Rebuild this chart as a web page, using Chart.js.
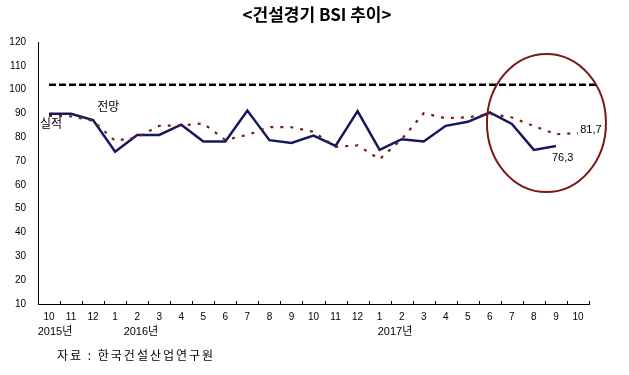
<!DOCTYPE html>
<html><head><meta charset="utf-8">
<script src="https://cdn.jsdelivr.net/npm/chart.js@4/dist/chart.umd.min.js"></script>
<style>html,body{margin:0;padding:0;background:#fff;}canvas{display:block;}</style>
</head><body>
<canvas id="c" width="629" height="375"></canvas>
<script>
// ---- data ----
const months = ['10','11','12','1','2','3','4','5','6','7','8','9','10','11','12','1','2','3','4','5','6','7','8','9','10'];
const actual = [89.9,89.9,87.2,73.9,81.0,81.0,85.3,78.2,78.2,91.2,78.8,77.6,80.7,76.4,91.0,74.7,79.2,78.2,84.8,86.5,90.4,85.6,74.7,76.3,null];
const forecast = [89.0,88.8,86.9,78.5,80.0,84.8,85.0,85.8,78.9,81.0,84.3,84.2,82.3,76.0,76.6,70.8,79.2,90.1,88.0,88.4,89.8,88.3,84.7,81.3,81.7];
const refLevel = 102;
const yearLabels = [['2015년',0.27],['2016년',4.17],['2017년',15.7]];
const noteLabels = [['전망',2.19,92.9],['실적',-0.41,86.0],['76,3',22.82,71.3],['81,7',24.1,83.1]];
const titleText = '<건설경기 BSI 추이>';
const sourceText = '자료 : 한국건설산업연구원';
const highlight = {index:22.57, value:86.0, rIndex:2.7, rValue:29};

const KR = '"Noto Sans CJK KR", "Liberation Sans", sans-serif';
const NUM = '"Liberation Sans", "Noto Sans CJK KR", sans-serif';

const decor = {
  id:'decor',
  beforeDatasetsDraw(chart){
    const {ctx, chartArea:a, scales:{x,y}} = chart;
    ctx.save();
    ctx.strokeStyle='#000'; ctx.lineWidth=1;
    const n = months.length;
    for(let k=0;k<=n;k++){
      const px = Math.round(a.left + (a.right-a.left)*k/n)+0.5;
      ctx.beginPath(); ctx.moveTo(px,a.bottom); ctx.lineTo(px,a.bottom-3); ctx.stroke();
    }
    ctx.strokeStyle='#000'; ctx.lineWidth=2.5; ctx.setLineDash([7,3]);
    const ry = y.getPixelForValue(refLevel);
    ctx.beginPath(); ctx.moveTo(x.getPixelForValue(0),ry); ctx.lineTo(x.getPixelForValue(24.86),ry); ctx.stroke();
    ctx.restore();
  },
  afterDatasetsDraw(chart){
    const {ctx, chartArea:a, scales:{x,y}} = chart;
    ctx.save();
    const cx = x.getPixelForValue(highlight.index);
    const cy = y.getPixelForValue(highlight.value);
    const rx = x.getPixelForValue(highlight.index+highlight.rIndex)-cx;
    const rr = cy - y.getPixelForValue(highlight.value+highlight.rValue);
    ctx.strokeStyle='#7a1818'; ctx.lineWidth=2;
    ctx.beginPath(); ctx.ellipse(cx,cy,rx,rr,0,0,Math.PI*2); ctx.stroke();
    ctx.fillStyle='#000'; ctx.textBaseline='middle'; ctx.textAlign='left';
    noteLabels.forEach(([t,i,v])=>{
      ctx.font = /[가-힣]/.test(t) ? '12px '+KR : '11px '+NUM;
      ctx.fillText(t, x.getPixelForValue(i), y.getPixelForValue(v));
    });
    ctx.textAlign='center'; ctx.font='11px '+NUM;
    yearLabels.forEach(([t,i])=>{ ctx.fillText(t, x.getPixelForValue(i), a.bottom+28); });
    ctx.font='bold 17px '+KR; ctx.textAlign='center';
    ctx.fillText(titleText, 317, 15);
    ctx.font='12px '+KR; ctx.textAlign='left';
    ctx.letterSpacing='2px';
    ctx.fillText(sourceText, 57, 355);
    ctx.restore();
  }
};

new Chart(document.getElementById('c'), {
  type:'line',
  data:{
    labels: months,
    datasets:[
      {label:'전망', data:forecast, borderColor:'#7b1c1c', borderWidth:2.2, borderDash:[3,7], pointRadius:0, tension:0, fill:false},
      {label:'실적', data:actual, borderColor:'#16175f', borderWidth:2.5, pointRadius:0, tension:0, fill:false, spanGaps:false}
    ]
  },
  options:{
    responsive:false, animation:false,
    layout:{padding:{top:42, right:40, bottom:0, left:0}},
    plugins:{legend:{display:false}, tooltip:{enabled:false}, title:{display:false}},
    scales:{
      x:{
        offset:true,
        grid:{display:false, drawTicks:false},
        border:{display:true, color:'#000', width:1},
        ticks:{color:'#000', font:{size:10, family:NUM}, padding:7, autoSkip:false, maxRotation:0},
        afterFit(s){ s.height = 71; }
      },
      y:{
        min:10, max:120,
        grid:{display:false, drawTicks:false},
        border:{display:true, color:'#000', width:1},
        ticks:{stepSize:10, color:'#000', font:{size:10, family:NUM}, padding:12},
        afterFit(s){ s.width = 38; }
      }
    }
  },
  plugins:[decor]
});
</script>
</body></html>
